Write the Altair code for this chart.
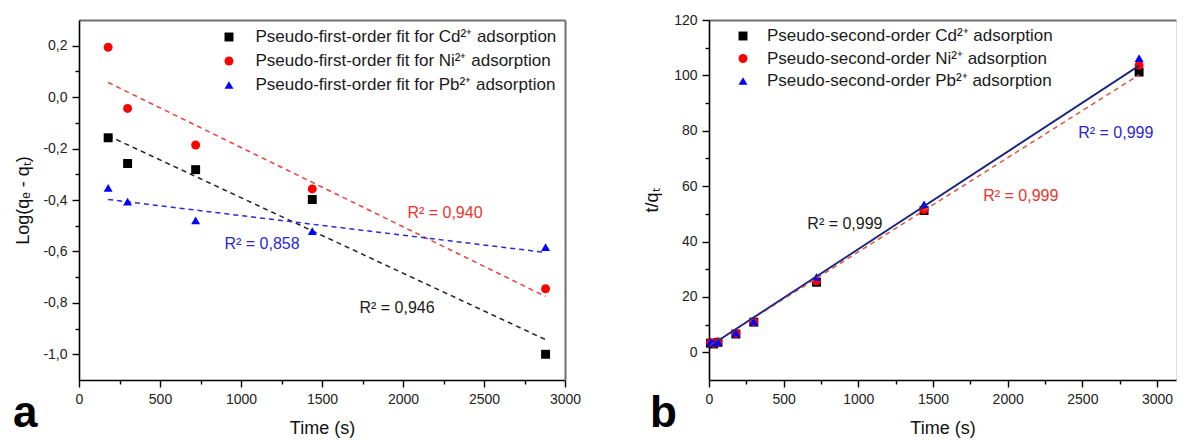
import altair as alt
import pandas as pd

FONT = "Liberation Sans"

# ---------------- Panel a data (pseudo-first-order) ----------------
time_a = [180, 300, 720, 1440, 2880]
cd_a = [-0.158, -0.258, -0.282, -0.398, -1.0]
ni_a = [0.194, -0.044, -0.186, -0.357, -0.745]
pb_a = [-0.353, -0.406, -0.479, -0.521, -0.583]

fit_time_a = [180, 2880]
cd_fit_a = [-0.150, -0.943]
ni_fit_a = [0.057, -0.775]
pb_fit_a = [-0.398, -0.604]

r2_text_a = ["R² = 0,946", "R² = 0,940", "R² = 0,858"]
r2_x_a = [1963, 2259, 1130]
r2_y_a = [-0.82, -0.452, -0.573]

series_a = ["Pseudo-first-order fit for Cd²⁺ adsorption",
            "Pseudo-first-order fit for Ni²⁺ adsorption",
            "Pseudo-first-order fit for Pb²⁺ adsorption"]

# ---------------- Panel b data (pseudo-second-order) ----------------
time_b = [10, 30, 60, 180, 300, 720, 1440, 2880]
cd_b = [3.3, 3.0, 3.6, 6.6, 10.9, 25.3, 51.2, 101.2]
ni_b = [3.5, 3.2, 3.7, 6.8, 11.0, 25.8, 51.5, 103.7]
pb_b = [3.8, 3.4, 3.9, 7.0, 11.2, 27.2, 53.4, 106.2]

fit_time_b = [10, 2880]
cd_fit_b = [2.4, 103.4]
ni_fit_b = [2.6, 100.2]
pb_fit_b = [2.4, 103.6]

r2_text_b = ["R² = 0,999", "R² = 0,999", "R² = 0,999"]
r2_x_b = [910, 2088, 2724]
r2_y_b = [46.5, 56.6, 79.3]

series_b = ["Pseudo-second-order Cd²⁺ adsorption",
            "Pseudo-second-order Ni²⁺ adsorption",
            "Pseudo-second-order Pb²⁺ adsorption"]

panel_letters = ["a", "b"]

x_major = [0, 500, 1000, 1500, 2000, 2500, 3000]
x_minor = [250, 750, 1250, 1750, 2250, 2750]
y_major_a = [-1.0, -0.8, -0.6, -0.4, -0.2, 0.0, 0.2]
y_minor_a = [-0.9, -0.7, -0.5, -0.3, -0.1, 0.1]
y_major_b = [0, 20, 40, 60, 80, 100, 120]
y_minor_b = [10, 30, 50, 70, 90, 110]

# ---------------- styles ----------------
marker_colors = ["#000000", "#ff0000", "#0000ff"]
marker_shapes = ["square", "circle", "triangle-up"]
fit_colors_a = ["#222222", "#e8403a", "#2a2ad0"]
text_colors = ["#1a1a1a", "#e8352f", "#2828d4"]
fit_colors_b = ["#1a1a1a", "#e0553c", "#1c2a9c"]
fit_dash_b = [None, [5, 4], None]

W_A, W_B, H = 486, 467, 360


def long_df(times, value_lists, names):
    rows = []
    for name, vals in zip(names, value_lists):
        for t, v in zip(times, vals):
            rows.append({"t": t, "v": v, "s": name})
    return pd.DataFrame(rows)


comma_expr = "(datum.value < 0 ? '-' : '') + replace(format(abs(datum.value), '.1f'), '.', ',')"


def base_axis(**kw):
    d = dict(grid=False, labelFont=FONT, titleFont=FONT, labelFontSize=14,
             titleFontSize=18, labelColor="#222222", titleColor="#111111",
             titleFontWeight="normal", domainColor="#000000", domainWidth=1.6,
             tickColor="#000000", tickWidth=1.4, labelFlush=False, labelOverlap=False,
             minExtent=0)
    d.update(kw)
    return alt.Axis(**d)


def major_x(title_pad):
    return base_axis(orient="bottom", values=x_major, format="d", title="Time (s)",
                     tickSize=7, labelPadding=5, titlePadding=title_pad)


def minor_x():
    return base_axis(orient="bottom", values=x_minor, labels=False, title=None,
                     tickSize=4, domain=False)


def frame_top():
    return base_axis(orient="top", ticks=False, labels=False, title=None,
                     domainColor="#6f6f6f", domainWidth=2)


def frame_right():
    return base_axis(orient="right", ticks=False, labels=False, title=None,
                     domainColor="#6f6f6f", domainWidth=2)


def panel(times, vals, names, fit_t, fits, fit_colors, dashes, r2t, r2x, r2y,
          xdom, ydom, ymajor, yminor, y_title, y_title_pad, y_label_expr, y_fmt,
          width, legend_x, legend_y, label_offset, row_pad, letter, letter_x,
          letter_y, right_frame, lines_on_top):
    xs = alt.Scale(domain=xdom, nice=False, zero=False)
    ys = alt.Scale(domain=ydom, nice=False, zero=False)

    pts_df = long_df(times, vals, names)
    ykw = dict(orient="left", values=ymajor, title=y_title, tickSize=7,
               labelPadding=5, titlePadding=y_title_pad)
    if y_label_expr:
        ykw["labelExpr"] = y_label_expr
    if y_fmt:
        ykw["format"] = y_fmt
    leg = alt.Legend(title=None, orient="none", legendX=legend_x, legendY=legend_y,
                     labelFont=FONT, labelFontSize=17, labelColor="#1a1a1a",
                     symbolSize=80, labelOffset=label_offset, rowPadding=row_pad,
                     padding=0, labelLimit=600, symbolStrokeWidth=0)
    points = alt.Chart(pts_df).mark_point(filled=True, size=80, opacity=1).encode(
        x=alt.X("t:Q", scale=xs, axis=major_x(13)),
        y=alt.Y("v:Q", scale=ys, axis=base_axis(**ykw)),
        color=alt.Color("s:N", scale=alt.Scale(domain=names, range=marker_colors), legend=leg),
        shape=alt.Shape("s:N", scale=alt.Scale(domain=names, range=marker_shapes), legend=leg),
        order=alt.Order("idx:Q"),
    ).transform_calculate(idx="indexof(%s, datum.s)" % str(names))

    line_layers = []
    for i, (fv, col, dash) in enumerate(zip(fits, fit_colors, dashes)):
        df = pd.DataFrame({"t": fit_t, "v": fv})
        mk = dict(color=col, strokeWidth=1.5)
        if dash:
            mk["strokeDash"] = dash
        if i == 0:
            xa = minor_x()
            ya = base_axis(orient="left", values=yminor, labels=False, title=None,
                           tickSize=4, domain=False)
        elif i == 1:
            xa = frame_top()
            ya = frame_right() if right_frame else None
        else:
            xa = None
            ya = None
        line_layers.append(alt.Chart(df).mark_line(**mk).encode(
            x=alt.X("t:Q", scale=xs, axis=xa),
            y=alt.Y("v:Q", scale=ys, axis=ya)))

    text_layers = []
    for t, x, y, col in zip(r2t, r2x, r2y, text_colors):
        df = pd.DataFrame({"t": [x], "v": [y], "lab": [t]})
        text_layers.append(alt.Chart(df).mark_text(
            font=FONT, fontSize=16, color=col, align="center", baseline="middle").encode(
            x=alt.X("t:Q", scale=xs, axis=None),
            y=alt.Y("v:Q", scale=ys, axis=None),
            text="lab:N"))

    letter_layer = alt.Chart(pd.DataFrame({"l": [letter]})).mark_text(
        font=FONT, fontSize=44, fontWeight="bold", color="#000000",
        align="left", baseline="alphabetic").encode(
        x=alt.value(letter_x), y=alt.value(letter_y), text="l:N")

    if lines_on_top:
        layers = [points] + line_layers
    else:
        layers = line_layers + [points]
    layers = layers + text_layers + [letter_layer]
    return alt.layer(*layers).resolve_axis(x="independent", y="independent").properties(
        width=width, height=H)


panel_a = panel(time_a, [cd_a, ni_a, pb_a], series_a, fit_time_a,
                [cd_fit_a, ni_fit_a, pb_fit_a], fit_colors_a, [[5, 4]] * 3,
                r2_text_a, r2_x_a, r2_y_a, [0, 3000], [-1.1, 0.3],
                y_major_a, y_minor_a, "Log(qₑ - qₜ)", 10, comma_expr, None,
                W_A, 141.5, 8.5, 18, 6, panel_letters[0], -66, 407, True, False)

panel_b = panel(time_b, [cd_b, ni_b, pb_b], series_b, fit_time_b,
                [cd_fit_b, ni_fit_b, pb_fit_b], fit_colors_b, fit_dash_b,
                r2_text_b, r2_x_b, r2_y_b, [0, 3127], [-10, 120],
                y_major_b, y_minor_b, "t/qₜ", 12, None, "d",
                W_B, 25.5, 7.5, 15.5, 4.5, panel_letters[1], -59, 407, False, True)

chart = alt.hconcat(panel_a, panel_b, spacing=61).resolve_scale(
    color="independent", shape="independent").properties(
    padding={"left": 4, "top": 4, "right": 0, "bottom": 0}
).configure_view(stroke=None).configure(background="white")

chart.save("out.html", embed_options={"renderer": "svg", "actions": False})
